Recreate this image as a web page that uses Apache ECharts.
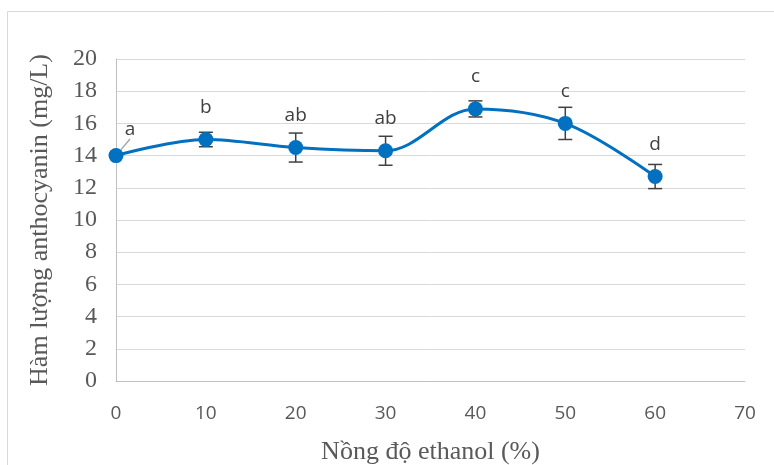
<!DOCTYPE html>
<html><head><meta charset="utf-8">
<script src="https://cdn.jsdelivr.net/npm/echarts@6/dist/echarts.min.js"></script>
<style>html,body{margin:0;padding:0;background:#fff}#c{width:774px;height:465px}</style>
</head><body><div id="c"></div>
<script>
const xValues = [0, 10, 20, 30, 40, 50, 60];
const yValues = [14.0, 15.0, 14.5, 14.3, 16.9, 16.0, 12.7];
const yErrors = [0.1, 0.45, 0.9, 0.9, 0.5, 1.0, 0.75];
const letters = ['a', 'b', 'ab', 'ab', 'c', 'c', 'd'];

const chart = echarts.init(document.getElementById('c'));
const lineData = xValues.map((x, i) => ({
  value: [x, yValues[i]],
  labelLine: { show: i === 0 }
}));
const errData = xValues.map((x, i) => [x, yValues[i] - yErrors[i], yValues[i] + yErrors[i]]);

chart.setOption({
  animation: false,
  graphic: [{ type: 'rect', left: 5, top: 9, shape: { width: 800, height: 500 }, style: { fill: 'none', stroke: '#d9d9d9', lineWidth: 1 }, silent: true, z: -10 }],
  grid: { left: 116, right: 29, top: 59, bottom: 84, containLabel: false, outerBoundsMode: 'none' },
  xAxis: {
    type: 'value', min: 0, max: 70, interval: 10,
    name: 'Nồng độ ethanol (%)', nameLocation: 'middle', nameGap: 58,
    nameTextStyle: { fontFamily: 'Liberation Serif', fontSize: 26, color: '#595959' },
    axisLine: { show: true, lineStyle: { color: '#bfbfbf', width: 1 } },
    axisTick: { show: false },
    splitLine: { show: false },
    axisLabel: { margin: 23, fontFamily: 'Open Sans', fontSize: 19, color: '#595959' }
  },
  yAxis: {
    type: 'value', min: 0, max: 20, interval: 2,
    name: 'Hàm lượng anthocyanin (mg/L)', nameLocation: 'middle', nameGap: 63,
    nameTextStyle: { fontFamily: 'Liberation Serif', fontSize: 26, color: '#595959' },
    axisLine: { show: true, lineStyle: { color: '#bfbfbf', width: 1 } },
    axisTick: { show: false },
    splitLine: { show: true, lineStyle: { color: '#d9d9d9', width: 1 } },
    axisLabel: { margin: 19, fontFamily: 'Liberation Serif', fontSize: 24, color: '#595959' }
  },
  series: [
    {
      type: 'custom',
      data: errData,
      z: 3,
      renderItem: function (params, api) {
        const x = api.value(0);
        const lo = api.coord([x, api.value(1)]);
        const hi = api.coord([x, api.value(2)]);
        const w = 7;
        const st = { stroke: '#404040', lineWidth: 1.5 };
        return {
          type: 'group',
          children: [
            { type: 'line', shape: { x1: lo[0], y1: lo[1], x2: hi[0], y2: hi[1] }, style: st },
            { type: 'line', shape: { x1: lo[0] - w, y1: lo[1], x2: lo[0] + w, y2: lo[1] }, style: st },
            { type: 'line', shape: { x1: hi[0] - w, y1: hi[1], x2: hi[0] + w, y2: hi[1] }, style: st }
          ]
        };
      }
    },
    {
      type: 'line',
      data: lineData,
      smooth: 0.35,
      symbol: 'circle',
      symbolSize: 15,
      z: 4,
      itemStyle: { color: '#0070C0' },
      lineStyle: { color: '#0070C0', width: 3 },
      label: {
        show: true, position: 'top', distance: 15,
        fontFamily: 'Open Sans', fontSize: 19, color: '#404040',
        formatter: p => letters[p.dataIndex]
      },
      labelLayout: function (p) {
        if (p.dataIndex === 0) return { dx: 14, dy: 6 };
        return {};
      },
      labelLine: { show: true, lineStyle: { color: '#a6a6a6', width: 1.5 } }
    }
  ]
});
</script></body></html>
